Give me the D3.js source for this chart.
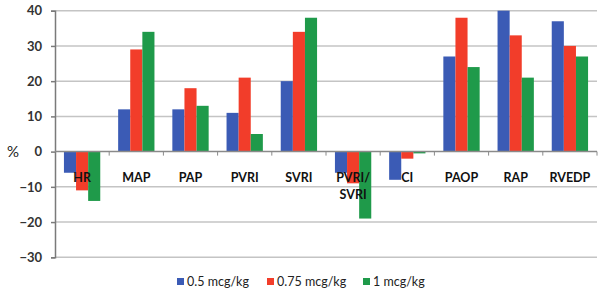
<!DOCTYPE html>
<html lang="en">
<head>
<meta charset="UTF-8">
<script src="https://d3js.org/d3.v7.min.js"></script>
<style>
    body { margin: 0; background: #fff; }
    text { font-family: Lato, "Open Sans", sans-serif; }
</style>
</head>
<body>
<div id="chart"></div>
<script>
    // Data
    const categories = ["HR", "MAP", "PAP", "PVRI", "SVRI", "PVRI/\nSVRI", "CI", "PAOP", "RAP", "RVEDP"];
    const seriesNames = ["0.5 mcg/kg", "0.75 mcg/kg", "1 mcg/kg"];
    const dose05 = [-6, 12, 12, 11, 20, -6, -8, 27, 40, 37];
    const dose075 = [-11, 29, 18, 21, 34, -9, -2, 38, 33, 30];
    const dose1 = [-14, 34, 13, 5, 38, -19, -0.5, 24, 21, 27];
    const yTicks = [-30, -20, -10, 0, 10, 20, 30, 40];
    const colors = ["#3b5bb5", "#f23d2a", "#1f9a4a"];

    const series = [dose05, dose075, dose1];

    const width = 604, height = 296;
    const margin = { left: 55, right: 7, top: 10.7, bottom: 38.7 };

    const svg = d3.select("#chart").append("svg")
        .attr("width", width)
        .attr("height", height);

    const x = d3.scaleBand()
        .domain(categories)
        .range([margin.left, width - margin.right])
        .paddingInner(0.33)
        .paddingOuter(0.165);

    const xSub = d3.scaleBand()
        .domain(d3.range(series.length))
        .range([0, x.bandwidth()]);

    const y = d3.scaleLinear()
        .domain([-30, 40])
        .range([height - margin.bottom, margin.top]);

    // Gridlines
    svg.append("g")
        .selectAll("line")
        .data(yTicks.filter(d => d !== 0))
        .join("line")
        .attr("x1", margin.left)
        .attr("x2", width - margin.right)
        .attr("y1", d => y(d))
        .attr("y2", d => y(d))
        .attr("stroke", "#c4c4c4")
        .attr("stroke-width", 1.5);

    // Bars
    const rows = categories.map((c, i) => series.map((s, j) => ({ c, j, v: s[i] })));
    svg.append("g")
        .selectAll("g")
        .data(rows)
        .join("g")
        .attr("transform", d => `translate(${x(d[0].c)},0)`)
        .selectAll("rect")
        .data(d => d)
        .join("rect")
        .attr("x", d => xSub(d.j))
        .attr("width", xSub.bandwidth())
        .attr("y", d => y(Math.max(0, d.v)))
        .attr("height", d => Math.abs(y(d.v) - y(0)))
        .attr("fill", d => colors[d.j]);

    // Y axis
    const yAxis = svg.append("g")
        .attr("transform", `translate(${margin.left},0)`)
        .call(d3.axisLeft(y).tickValues(yTicks).tickSize(4).tickPadding(9));
    yAxis.select(".domain").attr("stroke", "#7a7a7a").attr("stroke-width", 1.5);
    yAxis.selectAll(".tick line").attr("stroke", "#7a7a7a").attr("stroke-width", 1.5);
    yAxis.selectAll(".tick text")
        .attr("font-size", 13)
        .attr("font-weight", 700)
        .attr("fill", "#333")
        .style("font-family", "Lato, sans-serif");

    // Zero line with ticks between categories
    const xAxis = svg.append("g")
        .attr("transform", `translate(0,${y(0)})`);
    xAxis.append("line")
        .attr("x1", margin.left)
        .attr("x2", width - margin.right)
        .attr("stroke", "#8a8a8a")
        .attr("stroke-width", 1.5);
    const step = x.step();
    xAxis.selectAll(".sep")
        .data(categories)
        .join("line")
        .attr("class", "sep")
        .attr("x1", d => x(d) + x.bandwidth() + step * 0.33 / 2)
        .attr("x2", d => x(d) + x.bandwidth() + step * 0.33 / 2)
        .attr("y1", 0)
        .attr("y2", 4)
        .attr("stroke", "#8a8a8a")
        .attr("stroke-width", 1);

    // Category labels
    svg.append("g")
        .selectAll("text")
        .data(categories)
        .join("text")
        .attr("x", d => x(d) + x.bandwidth() / 2)
        .attr("y", 182)
        .attr("text-anchor", "middle")
        .attr("font-size", 12.5)
        .attr("font-weight", 700)
        .attr("fill", "#111")
        .each(function (d) {
            const lines = d.split("\n");
            d3.select(this).selectAll("tspan")
                .data(lines)
                .join("tspan")
                .attr("x", x(d) + x.bandwidth() / 2)
                .attr("dy", (l, i) => i === 0 ? 0 : 17)
                .text(l => l);
        });

    // % label
    svg.append("text")
        .attr("x", 7)
        .attr("y", y(0) + 5)
        .attr("font-size", 15)
        .attr("fill", "#222")
        .text("%");

    // Legend
    const legendX = [177, 267, 363];
    const legend = svg.append("g")
        .selectAll("g")
        .data(seriesNames)
        .join("g")
        .attr("transform", (d, i) => `translate(${legendX[i]},282)`);
    legend.append("rect")
        .attr("x", 0)
        .attr("y", -4)
        .attr("width", 7)
        .attr("height", 7)
        .attr("fill", (d, i) => colors[i]);
    legend.append("text")
        .attr("x", 10)
        .attr("y", 4)
        .attr("font-size", 12.5)
        .attr("fill", "#222")
        .text(d => d);
</script>
</body>
</html>
